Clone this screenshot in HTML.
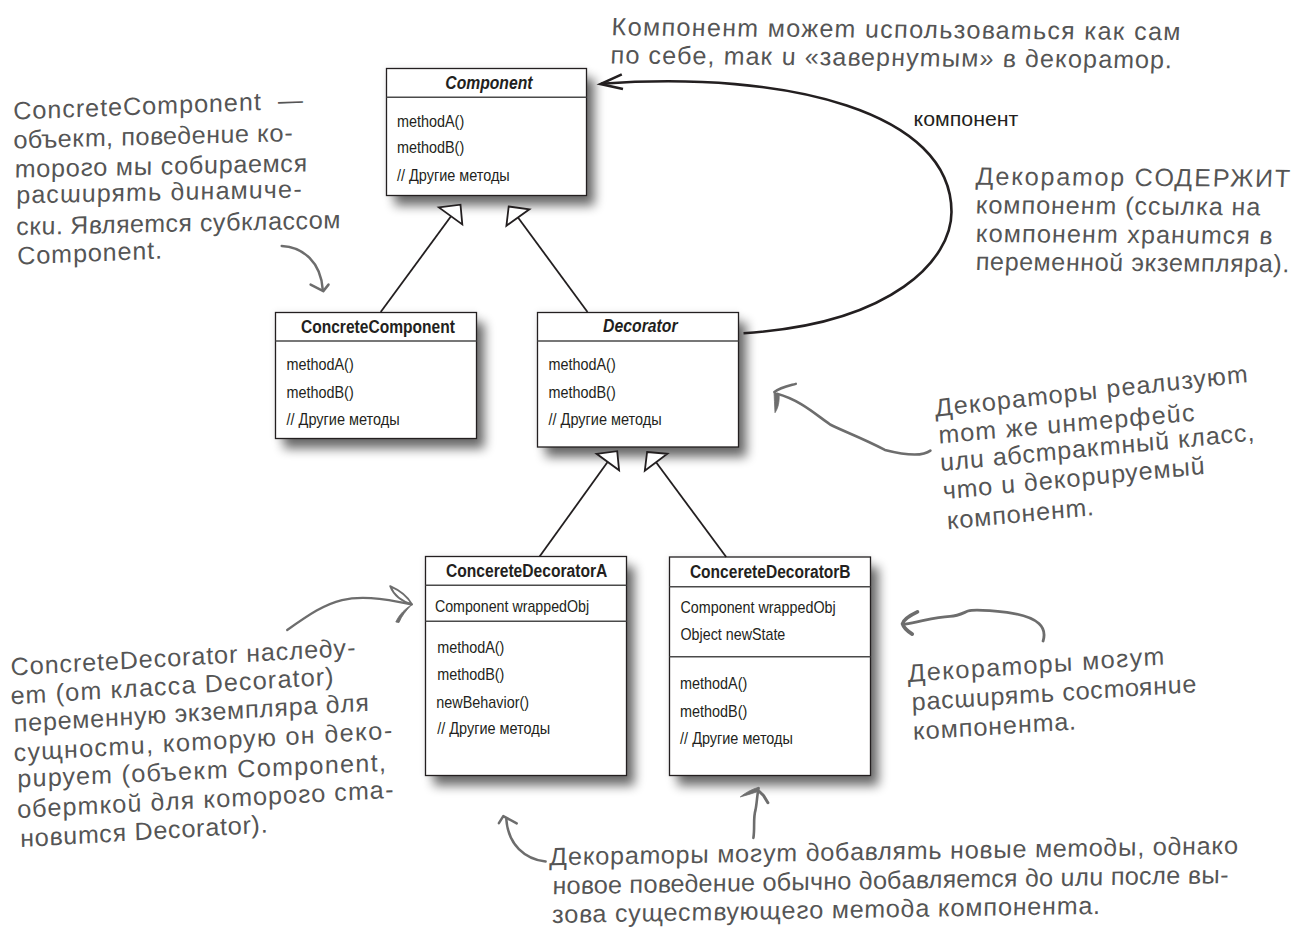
<!DOCTYPE html>
<html><head><meta charset="utf-8"><title>Decorator UML</title>
<style>html,body{margin:0;padding:0;background:#fff;}body{width:1305px;height:944px;overflow:hidden;}svg{display:block;font-family:"Liberation Sans",sans-serif;}</style>
</head><body>
<svg width="1305" height="944" viewBox="0 0 1305 944">
<defs>
<filter id="sh" x="-30%" y="-30%" width="160%" height="160%"><feGaussianBlur stdDeviation="5.5"/></filter>
<filter id="sh2" x="-30%" y="-30%" width="160%" height="160%"><feGaussianBlur stdDeviation="3.5"/></filter>
</defs>
<rect width="1305" height="944" fill="#fff"/>
<rect x="385.5" y="67.5" width="202" height="129" fill="#000" opacity="0.07" filter="url(#sh2)"/>
<rect x="274.5" y="311.5" width="203" height="128" fill="#000" opacity="0.07" filter="url(#sh2)"/>
<rect x="536.5" y="311.5" width="203" height="136.5" fill="#000" opacity="0.07" filter="url(#sh2)"/>
<rect x="424.5" y="555.5" width="203" height="221" fill="#000" opacity="0.07" filter="url(#sh2)"/>
<rect x="668.5" y="556" width="203" height="220.5" fill="#000" opacity="0.07" filter="url(#sh2)"/>
<rect x="394.5" y="78.5" width="200" height="127" fill="#000" opacity="0.58" filter="url(#sh)"/>
<rect x="283.5" y="322.5" width="201" height="126" fill="#000" opacity="0.58" filter="url(#sh)"/>
<rect x="545.5" y="322.5" width="201" height="134.5" fill="#000" opacity="0.58" filter="url(#sh)"/>
<rect x="433.5" y="566.5" width="201" height="219" fill="#000" opacity="0.58" filter="url(#sh)"/>
<rect x="677.5" y="567" width="201" height="218.5" fill="#000" opacity="0.58" filter="url(#sh)"/>
<rect x="386.5" y="68.5" width="200" height="127" fill="#fff" stroke="#231f20" stroke-width="1.3"/>
<line x1="386.5" y1="97.3" x2="586.5" y2="97.3" stroke="#4a4a4a" stroke-width="1.6"/>
<text x="445.3" y="88.5" textLength="87.2" lengthAdjust="spacingAndGlyphs" style="font-weight:bold;font-style:italic;font-size:18.8px" fill="#231f20">Component</text>
<text x="397.0" y="126.5" textLength="67.2" lengthAdjust="spacingAndGlyphs" style="font-size:17px" fill="#231f20">methodA()</text>
<text x="397.0" y="153.3" textLength="67.2" lengthAdjust="spacingAndGlyphs" style="font-size:17px" fill="#231f20">methodB()</text>
<text x="397.0" y="180.9" textLength="112.7" lengthAdjust="spacingAndGlyphs" style="font-size:17px" fill="#231f20">// Другие методы</text>
<rect x="275.5" y="312.5" width="201" height="126" fill="#fff" stroke="#231f20" stroke-width="1.3"/>
<line x1="275.5" y1="341" x2="476.5" y2="341" stroke="#4a4a4a" stroke-width="1.6"/>
<text x="300.9" y="333.2" textLength="154.0" lengthAdjust="spacingAndGlyphs" style="font-weight:bold;font-size:18.8px" fill="#231f20">ConcreteComponent</text>
<text x="286.5" y="369.9" textLength="67.2" lengthAdjust="spacingAndGlyphs" style="font-size:17px" fill="#231f20">methodA()</text>
<text x="286.5" y="397.5" textLength="67.2" lengthAdjust="spacingAndGlyphs" style="font-size:17px" fill="#231f20">methodB()</text>
<text x="286.5" y="424.8" textLength="113.2" lengthAdjust="spacingAndGlyphs" style="font-size:17px" fill="#231f20">// Другие методы</text>
<rect x="537.5" y="312.5" width="201" height="134.5" fill="#fff" stroke="#231f20" stroke-width="1.3"/>
<line x1="537.5" y1="341" x2="738.5" y2="341" stroke="#4a4a4a" stroke-width="1.6"/>
<text x="603.1" y="332" textLength="74.5" lengthAdjust="spacingAndGlyphs" style="font-weight:bold;font-style:italic;font-size:18.8px" fill="#231f20">Decorator</text>
<text x="548.5" y="369.9" textLength="67.2" lengthAdjust="spacingAndGlyphs" style="font-size:17px" fill="#231f20">methodA()</text>
<text x="548.5" y="397.5" textLength="67.2" lengthAdjust="spacingAndGlyphs" style="font-size:17px" fill="#231f20">methodB()</text>
<text x="548.5" y="424.8" textLength="113.2" lengthAdjust="spacingAndGlyphs" style="font-size:17px" fill="#231f20">// Другие методы</text>
<rect x="425.5" y="556.5" width="201" height="219" fill="#fff" stroke="#231f20" stroke-width="1.3"/>
<line x1="425.5" y1="585.3" x2="626.5" y2="585.3" stroke="#4a4a4a" stroke-width="1.6"/>
<line x1="425.5" y1="621.3" x2="626.5" y2="621.3" stroke="#4a4a4a" stroke-width="1.6"/>
<text x="445.9" y="577.2" textLength="161.5" lengthAdjust="spacingAndGlyphs" style="font-weight:bold;font-size:18.8px" fill="#231f20">ConcereteDecoratorA</text>
<text x="434.9" y="612.4" textLength="154.2" lengthAdjust="spacingAndGlyphs" style="font-size:17px" fill="#231f20">Component wrappedObj</text>
<text x="437.2" y="652.7" textLength="67.2" lengthAdjust="spacingAndGlyphs" style="font-size:17px" fill="#231f20">methodA()</text>
<text x="437.2" y="679.5" textLength="67.2" lengthAdjust="spacingAndGlyphs" style="font-size:17px" fill="#231f20">methodB()</text>
<text x="436.29999999999995" y="707.5" textLength="92.8" lengthAdjust="spacingAndGlyphs" style="font-size:17px" fill="#231f20">newBehavior()</text>
<text x="437.2" y="734.3" textLength="112.9" lengthAdjust="spacingAndGlyphs" style="font-size:17px" fill="#231f20">// Другие методы</text>
<rect x="669.5" y="557" width="201" height="218.5" fill="#fff" stroke="#231f20" stroke-width="1.3"/>
<line x1="669.5" y1="586.8" x2="870.5" y2="586.8" stroke="#4a4a4a" stroke-width="1.6"/>
<line x1="669.5" y1="656.7" x2="870.5" y2="656.7" stroke="#4a4a4a" stroke-width="1.6"/>
<text x="689.9" y="578.1" textLength="160.7" lengthAdjust="spacingAndGlyphs" style="font-weight:bold;font-size:18.8px" fill="#231f20">ConcereteDecoratorB</text>
<text x="680.5" y="612.6" textLength="155.2" lengthAdjust="spacingAndGlyphs" style="font-size:17px" fill="#231f20">Component wrappedObj</text>
<text x="680.5" y="640.3" textLength="104.8" lengthAdjust="spacingAndGlyphs" style="font-size:17px" fill="#231f20">Object newState</text>
<text x="680.1" y="689.3" textLength="67.2" lengthAdjust="spacingAndGlyphs" style="font-size:17px" fill="#231f20">methodA()</text>
<text x="680.1" y="716.8" textLength="67.2" lengthAdjust="spacingAndGlyphs" style="font-size:17px" fill="#231f20">methodB()</text>
<text x="680.1" y="743.6" textLength="112.8" lengthAdjust="spacingAndGlyphs" style="font-size:17px" fill="#231f20">// Другие методы</text>
<line x1="380.7" y1="312" x2="451" y2="216.3" stroke="#231f20" stroke-width="1.8"/>
<path d="M438.9,207.4 L460.5,204.7 L462.3,224.4 Z" fill="#fff" stroke="#231f20" stroke-width="1.8" stroke-linejoin="miter"/>
<line x1="587.5" y1="312" x2="518" y2="217.5" stroke="#231f20" stroke-width="1.8"/>
<path d="M508.7,206.5 L529.4,209.3 L506.4,225.8 Z" fill="#fff" stroke="#231f20" stroke-width="1.8" stroke-linejoin="miter"/>
<line x1="539.6" y1="556.5" x2="607.6" y2="462" stroke="#231f20" stroke-width="1.8"/>
<path d="M596.6,453.8 L617.2,451.2 L619.1,470.3 Z" fill="#fff" stroke="#231f20" stroke-width="1.8" stroke-linejoin="miter"/>
<line x1="726.2" y1="557" x2="655.9" y2="462" stroke="#231f20" stroke-width="1.8"/>
<path d="M647.1,452 L667.4,453.8 L644.8,470.8 Z" fill="#fff" stroke="#231f20" stroke-width="1.8" stroke-linejoin="miter"/>
<path d="M743.5,333.2 C894,323.8 951.5,258.9 951.5,212 C951.5,112.2 788.8,70.3 601,83.8" fill="none" stroke="#231f20" stroke-width="2.6"/>
<path d="M621.8,74.4 L600.5,84 L623,89.1" fill="none" stroke="#231f20" stroke-width="2.6"/>
<text x="913.6" y="126.1" textLength="104.8" lengthAdjust="spacingAndGlyphs" style="font-size:19.3px" fill="#231f20">компонент</text>
<path d="M281.7,246 C303,247 321,262 322.8,290" fill="none" stroke="#6d6d6d" stroke-width="2.5" stroke-linecap="round" stroke-linejoin="round"/>
<path d="M310.6,284.6 L323.3,291.1 L328.5,284.6" fill="none" stroke="#6d6d6d" stroke-width="2.5" stroke-linecap="round" stroke-linejoin="round"/>
<path d="M287.2,630 C332.5,597.9 346.5,590.7 411.6,604.3" fill="none" stroke="#6d6d6d" stroke-width="2.3" stroke-linecap="round" stroke-linejoin="round"/>
<path d="M390.2,586.1 C399,590 408,597 412,604.4 C404,602 394.5,597 390.2,586.1 Z" fill="none" stroke="#6d6d6d" stroke-width="1.9" stroke-linecap="round" stroke-linejoin="round"/>
<path d="M412,604.4 C405,609 399.5,614 395.8,622 L399,622.6 C401.5,616 406,610.5 412,604.4 Z" fill="#6d6d6d" stroke="#6d6d6d" stroke-width="0.8" stroke-linejoin="round"/>
<path d="M930.4,450.6 C922,457 905,455 884.9,449.9 C860,437 845,432 830.1,424.5 C815,414 800,400 777,393.8" fill="none" stroke="#6d6d6d" stroke-width="2.6" stroke-linecap="round" stroke-linejoin="round"/>
<path d="M774.4,392 C780,387.5 788,386 795.8,383.9" fill="none" stroke="#6d6d6d" stroke-width="2.5" stroke-linecap="round" stroke-linejoin="round"/>
<path d="M774,391.5 L779.2,395.5 C779.2,402 778.5,407.5 775,412.7 C774.6,405 774.3,398 774,391.5 Z" fill="#6d6d6d" stroke="#6d6d6d" stroke-width="0.8" stroke-linejoin="round"/>
<path d="M1043.1,641 C1047,628 1040,617 1007,612.4 C990,610.5 975,609 968,611 C962,613.5 958,616 950,616.3 C935,616.8 920,622 905,624.2" fill="none" stroke="#6d6d6d" stroke-width="2.8" stroke-linecap="round" stroke-linejoin="round"/>
<path d="M917.4,611.9 Q903.5,618.5 902.6,623.8 Q904,629 912.2,634.1" fill="none" stroke="#6d6d6d" stroke-width="3.8" stroke-linecap="round" stroke-linejoin="round"/>
<path d="M545.6,861.6 C525,859 508,845 506.3,819" fill="none" stroke="#6d6d6d" stroke-width="2.5" stroke-linecap="round" stroke-linejoin="round"/>
<path d="M498.9,823.1 L503.3,816.1 L516.7,823.4" fill="none" stroke="#6d6d6d" stroke-width="2.5" stroke-linecap="round" stroke-linejoin="round"/>
<path d="M753.4,837.9 C755,828 753,818 755.5,810 C757,803 757,795 758.6,788.2" fill="none" stroke="#6d6d6d" stroke-width="2.6" stroke-linecap="round" stroke-linejoin="round"/>
<path d="M758.9,787.2 C752,789 745,793 740.3,796.9 C746,795.5 752,793.5 758,791.5 Z" fill="#6d6d6d" stroke="#6d6d6d" stroke-width="0.8" stroke-linejoin="round"/>
<path d="M759.6,791.7 L763.5,795.5 L767.9,802.7" fill="none" stroke="#6d6d6d" stroke-width="3" stroke-linecap="round" stroke-linejoin="round"/>
<text x="14.7" y="119.5" transform="rotate(-2.2 14.7 119.5) translate(14.7 119.5) skewX(9) translate(-14.7 -119.5)" textLength="289.7" lengthAdjust="spacing" style="font-size:25px;font-style:italic" fill="#555555">ConcreteComponent  —</text>
<text x="14.7" y="148.4" transform="rotate(-1.5 14.7 148.4) translate(14.7 148.4) skewX(9) translate(-14.7 -148.4)" textLength="278.9" lengthAdjust="spacing" style="font-size:25px;font-style:italic" fill="#555555">объект, поведение ко-</text>
<text x="16" y="177.5" transform="rotate(-1.2 16 177.5) translate(16 177.5) skewX(9) translate(-16 -177.5)" textLength="292.3" lengthAdjust="spacing" style="font-size:25px;font-style:italic" fill="#555555">торого мы собираемся</text>
<text x="17.4" y="203.4" transform="rotate(-1.2 17.4 203.4) translate(17.4 203.4) skewX(9) translate(-17.4 -203.4)" textLength="285.2" lengthAdjust="spacing" style="font-size:25px;font-style:italic" fill="#555555">расширять динамиче-</text>
<text x="17.4" y="235" transform="rotate(-1.2 17.4 235) translate(17.4 235) skewX(9) translate(-17.4 -235)" textLength="324.2" lengthAdjust="spacing" style="font-size:25px;font-style:italic" fill="#555555">ски. Является субклассом</text>
<text x="18.8" y="264.5" transform="rotate(-2.4 18.8 264.5) translate(18.8 264.5) skewX(9) translate(-18.8 -264.5)" textLength="144.8" lengthAdjust="spacing" style="font-size:25px;font-style:italic" fill="#555555">Component.</text>
<text x="612.6" y="35.3" transform="rotate(0.5 612.6 35.3) translate(612.6 35.3) skewX(9) translate(-612.6 -35.3)" textLength="568.9" lengthAdjust="spacing" style="font-size:25px;font-style:italic" fill="#555555">Компонент может использоваться как сам</text>
<text x="611.5" y="63.5" transform="rotate(0.5 611.5 63.5) translate(611.5 63.5) skewX(9) translate(-611.5 -63.5)" textLength="561.5" lengthAdjust="spacing" style="font-size:25px;font-style:italic" fill="#555555">по себе, так и «завернутым» в декоратор.</text>
<text x="977" y="184.8" transform="rotate(0.4 977 184.8) translate(977 184.8) skewX(9) translate(-977 -184.8)" textLength="314.0" lengthAdjust="spacing" style="font-size:25px;font-style:italic" fill="#555555">Декоратор СОДЕРЖИТ</text>
<text x="976.7" y="213.4" transform="rotate(0.4 976.7 213.4) translate(976.7 213.4) skewX(9) translate(-976.7 -213.4)" textLength="284.5" lengthAdjust="spacing" style="font-size:25px;font-style:italic" fill="#555555">компонент (ссылка на</text>
<text x="976.7" y="242" transform="rotate(0.4 976.7 242) translate(976.7 242) skewX(9) translate(-976.7 -242)" textLength="296.5" lengthAdjust="spacing" style="font-size:25px;font-style:italic" fill="#555555">компонент хранится в</text>
<text x="976.7" y="270" transform="rotate(0.4 976.7 270) translate(976.7 270) skewX(9) translate(-976.7 -270)" textLength="313.7" lengthAdjust="spacing" style="font-size:25px;font-style:italic" fill="#555555">переменной экземпляра).</text>
<text x="937" y="416.4" transform="rotate(-6.3 937 416.4) translate(937 416.4) skewX(9) translate(-937 -416.4)" textLength="314.4" lengthAdjust="spacing" style="font-size:25px;font-style:italic" fill="#555555">Декораторы реализуют</text>
<text x="940.3" y="443.4" transform="rotate(-5.1 940.3 443.4) translate(940.3 443.4) skewX(9) translate(-940.3 -443.4)" textLength="256.8" lengthAdjust="spacing" style="font-size:25px;font-style:italic" fill="#555555">тот же интерфейс</text>
<text x="942" y="471" transform="rotate(-5.6 942 471) translate(942 471) skewX(9) translate(-942 -471)" textLength="315.5" lengthAdjust="spacing" style="font-size:25px;font-style:italic" fill="#555555">или абстрактный класс,</text>
<text x="944.7" y="499.3" transform="rotate(-5.6 944.7 499.3) translate(944.7 499.3) skewX(9) translate(-944.7 -499.3)" textLength="263.0" lengthAdjust="spacing" style="font-size:25px;font-style:italic" fill="#555555">что и декорируемый</text>
<text x="948.7" y="529.3" transform="rotate(-5.6 948.7 529.3) translate(948.7 529.3) skewX(9) translate(-948.7 -529.3)" textLength="147.5" lengthAdjust="spacing" style="font-size:25px;font-style:italic" fill="#555555">компонент.</text>
<text x="909.6" y="681.9" transform="rotate(-3.95 909.6 681.9) translate(909.6 681.9) skewX(9) translate(-909.6 -681.9)" textLength="256.9" lengthAdjust="spacing" style="font-size:25px;font-style:italic" fill="#555555">Декораторы могут</text>
<text x="913.3" y="710.4" transform="rotate(-3.7 913.3 710.4) translate(913.3 710.4) skewX(9) translate(-913.3 -710.4)" textLength="285.1" lengthAdjust="spacing" style="font-size:25px;font-style:italic" fill="#555555">расширять состояние</text>
<text x="914.5" y="739.8" transform="rotate(-3.7 914.5 739.8) translate(914.5 739.8) skewX(9) translate(-914.5 -739.8)" textLength="163.3" lengthAdjust="spacing" style="font-size:25px;font-style:italic" fill="#555555">компонента.</text>
<text x="12.3" y="675.4" transform="rotate(-3.27 12.3 675.4) translate(12.3 675.4) skewX(9) translate(-12.3 -675.4)" textLength="344.8" lengthAdjust="spacing" style="font-size:25px;font-style:italic" fill="#555555">ConcreteDecorator наследу-</text>
<text x="12.3" y="704.3" transform="rotate(-3.5 12.3 704.3) translate(12.3 704.3) skewX(9) translate(-12.3 -704.3)" textLength="323.4" lengthAdjust="spacing" style="font-size:25px;font-style:italic" fill="#555555">ет (от класса Decorator)</text>
<text x="15.3" y="732" transform="rotate(-3.45 15.3 732) translate(15.3 732) skewX(9) translate(-15.3 -732)" textLength="355.6" lengthAdjust="spacing" style="font-size:25px;font-style:italic" fill="#555555">переменную экземпляра для</text>
<text x="15.3" y="761.2" transform="rotate(-3.42 15.3 761.2) translate(15.3 761.2) skewX(9) translate(-15.3 -761.2)" textLength="378.7" lengthAdjust="spacing" style="font-size:25px;font-style:italic" fill="#555555">сущности, которую он деко-</text>
<text x="18.7" y="787.3" transform="rotate(-2.56 18.7 787.3) translate(18.7 787.3) skewX(9) translate(-18.7 -787.3)" textLength="368.9" lengthAdjust="spacing" style="font-size:25px;font-style:italic" fill="#555555">рирует (объект Component,</text>
<text x="18.7" y="817.9" transform="rotate(-3.05 18.7 817.9) translate(18.7 817.9) skewX(9) translate(-18.7 -817.9)" textLength="376.3" lengthAdjust="spacing" style="font-size:25px;font-style:italic" fill="#555555">оберткой для которого ста-</text>
<text x="21.7" y="847.1" transform="rotate(-3.4 21.7 847.1) translate(21.7 847.1) skewX(9) translate(-21.7 -847.1)" textLength="247.9" lengthAdjust="spacing" style="font-size:25px;font-style:italic" fill="#555555">новится Decorator).</text>
<text x="550.8" y="865.3" transform="rotate(-0.95 550.8 865.3) translate(550.8 865.3) skewX(9) translate(-550.8 -865.3)" textLength="688.4" lengthAdjust="spacing" style="font-size:25px;font-style:italic" fill="#555555">Декораторы могут добавлять новые методы, однако</text>
<text x="553.8" y="894.3" transform="rotate(-0.95 553.8 894.3) translate(553.8 894.3) skewX(9) translate(-553.8 -894.3)" textLength="675.7" lengthAdjust="spacing" style="font-size:25px;font-style:italic" fill="#555555">новое поведение обычно добавляется до или после вы-</text>
<text x="553.2" y="922.9" transform="rotate(-0.95 553.2 922.9) translate(553.2 922.9) skewX(9) translate(-553.2 -922.9)" textLength="548.0" lengthAdjust="spacing" style="font-size:25px;font-style:italic" fill="#555555">зова существующего метода компонента.</text>
</svg>
</body></html>
